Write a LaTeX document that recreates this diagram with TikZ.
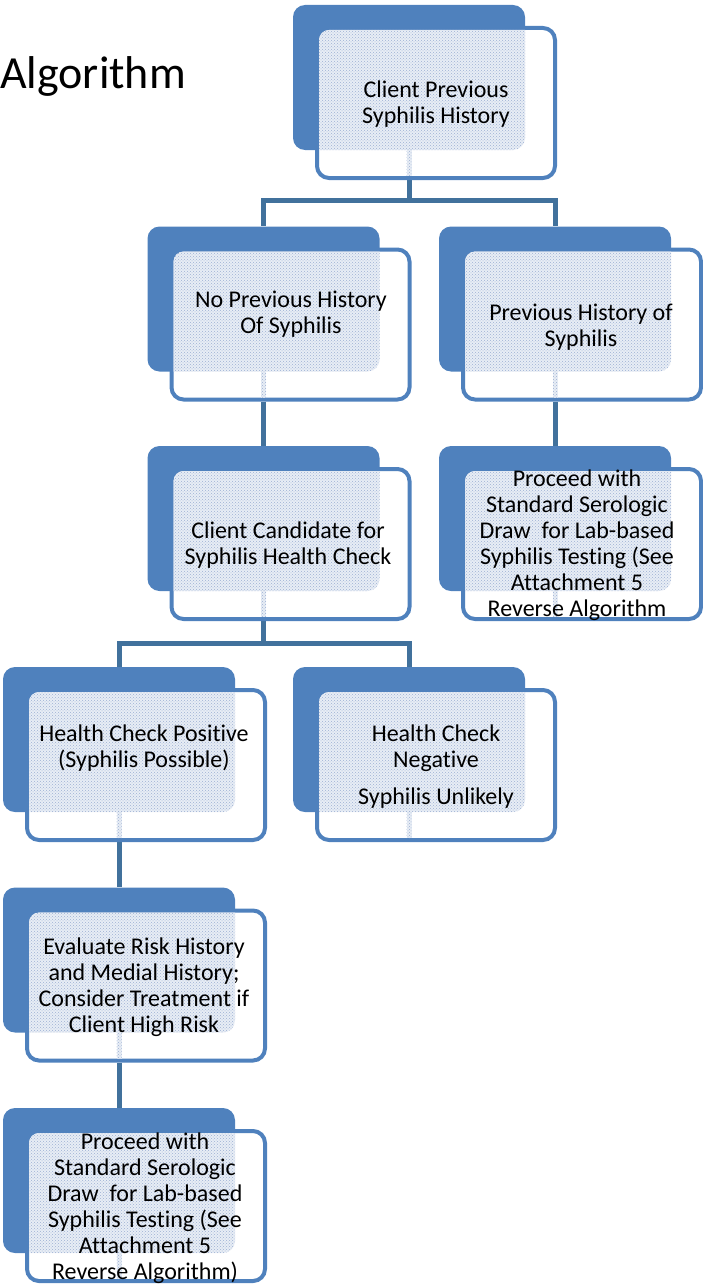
\documentclass[tikz,border=0pt]{standalone}
\usepackage{fontspec}
\setmainfont{Carlito}[Ligatures=NoCommon]
\usetikzlibrary{patterns,backgrounds}
\definecolor{boxblue}{HTML}{4F81BD}
\definecolor{linkblue}{HTML}{41719C}
\definecolor{dotblue}{HTML}{9DB1D3}
\definecolor{dotbase}{HTML}{E8EDF5}
\tikzset{
  backbox/.style={fill=boxblue, rounded corners=12pt, minimum width=232pt, minimum height=145pt, inner sep=0pt, draw=none},
  frontbox/.style={draw=boxblue, line width=4pt, fill=white, rounded corners=12pt, minimum width=238pt, minimum height=150pt, inner sep=0pt},
  boxtext/.style={font=\fontsize{24}{26}\selectfont, align=center, inner sep=0pt, text=black},
  link/.style={draw=linkblue, line width=5pt},
  dotbg/.style={fill=dotbase},
  dotfill/.style={pattern=crosshatch dots, pattern color=dotblue},
}
\newcommand\boxpair[3]{%
  \node[backbox] (#1back) at (#2,#3) {};
  \node[frontbox] (#1front) at (#2+27,#3+25.5) {};
  \begin{scope}
    \clip[rounded corners=10pt] (#2+27-117,#3+25.5-73) rectangle (#2+27+117,#3+25.5+73);
    \fill[dotbg, rounded corners=12pt] (#2-116,#3-72.5) rectangle (#2+116,#3+72.5);
    \fill[dotfill, rounded corners=12pt] (#2-116,#3-72.5) rectangle (#2+116,#3+72.5);
    \fill[dotbg] (#2-2.5,#3+72) rectangle (#2+2.5,#3+25.5+73);
    \fill[dotfill] (#2-2.5,#3+72) rectangle (#2+2.5,#3+25.5+73);
  \end{scope}
}
\begin{document}
\begin{tikzpicture}[x=1pt,y=-1pt]
\useasboundingbox (0,0) rectangle (702,1287);
% boxes
\boxpair{n1}{409}{77.5}
\boxpair{n2}{263.5}{299}
\boxpair{n3}{555}{299}
\boxpair{n4}{555}{518.5}
\boxpair{n5}{263.5}{518.5}
\boxpair{n6}{119}{739.5}
\boxpair{n7}{409}{739.5}
\boxpair{n8}{119}{960}
\boxpair{n9}{119}{1180.5}
% bar heights
\coordinate (bar1) at (0,200);
\coordinate (bar2) at (0,643);
% connectors (behind boxes)
\begin{scope}[on background layer]
\draw[link] (n1back.center|-n1front.south) -- (n1back.center|-bar1) -| (n2back.north);
\draw[link] (n1back.center|-bar1) -| (n3back.north);
\draw[link] (n2back.center|-n2front.south) -- (n5back.north);
\draw[link] (n3back.center|-n3front.south) -- (n4back.north);
\draw[link] (n5back.center|-n5front.south) -- (n5back.center|-bar2) -| (n6back.north);
\draw[link] (n5back.center|-bar2) -| (n7back.north);
\draw[link] (n6back.center|-n6front.south) -- (n8back.north);
\draw[link] (n8back.center|-n8front.south) -- (n9back.north);
\end{scope}
% texts
\node[boxtext] (t1) at (436,104.5) {Client Previous\\Syphilis History};
\node[boxtext] (t2) at (291,314) {No Previous History\\Of Syphilis};
\node[boxtext] (t3) at (581,327) {Previous History of\\Syphilis};
\node[boxtext] (t4) at (577,545) {Proceed with\\Standard Serologic\\Draw\ \ for Lab-based\\Syphilis Testing (See\\Attachment 5\\Reverse Algorithm};
\node[boxtext] (t5) at (288,545) {Client Candidate for\\Syphilis Health Check};
\node[boxtext] (t6) at (144,748.5) {Health Check Positive\\(Syphilis Possible)};
\node[boxtext] (t7) at (436,766.5) {Health Check\\Negative\\[11pt]Syphilis Unlikely};
\node[boxtext] (t8) at (144,987.5) {Evaluate Risk History\\and Medial History;\\Consider Treatment if\\Client High Risk};
\node[boxtext] (t9) at (145,1208) {Proceed with\\Standard Serologic\\Draw\ \ for Lab-based\\Syphilis Testing (See\\Attachment 5\\Reverse Algorithm)};
\node[anchor=base west, inner sep=0pt, font=\fontsize{46}{55}\selectfont] (title) at (0,89) {Algorithm};
\end{tikzpicture}
\end{document}
